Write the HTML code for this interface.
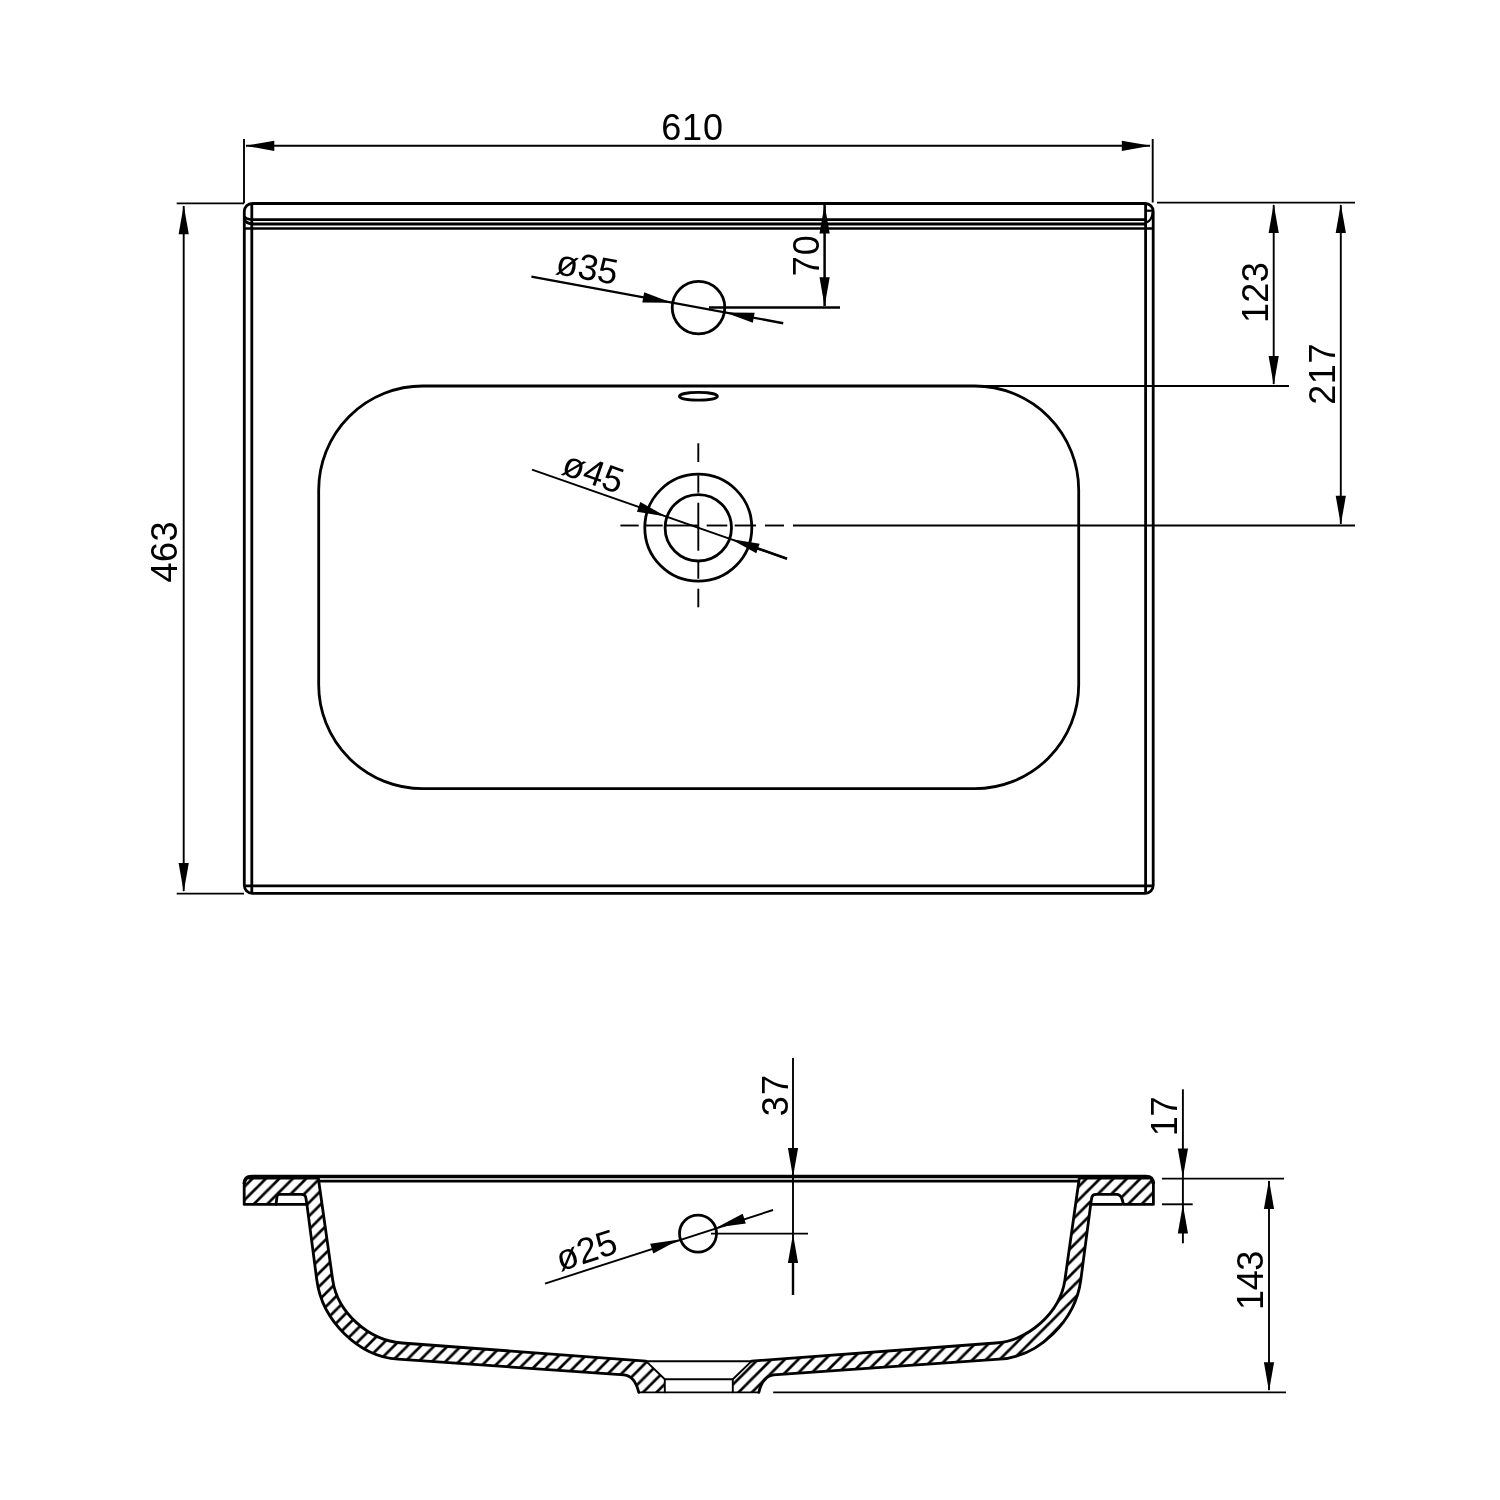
<!DOCTYPE html>
<html><head><meta charset="utf-8"><title>Washbasin 610 drawing</title>
<style>
html,body{margin:0;padding:0;background:#fff;}
svg{display:block;will-change:transform;}
text{font-family:"Liberation Sans",sans-serif;fill:#000;}
</style></head><body>
<svg width="1500" height="1500" viewBox="0 0 1500 1500">
<rect width="1500" height="1500" fill="#fff"/>
<rect x="244.3" y="203.5" width="908.9000000000001" height="689.8" rx="8" ry="8" fill="none" stroke="#000" stroke-width="2.8"/>
<line x1="251.8" y1="204" x2="251.8" y2="893" stroke="#000" stroke-width="2.8" />
<line x1="1145.6" y1="204" x2="1145.6" y2="893" stroke="#000" stroke-width="2.8" />
<path d="M1145.6,219.55 L252,219.55 Q245.6,219.2 244.3,216.2" fill="none" stroke="#000" stroke-width="2.8"/>
<path d="M1145.6,224.0 L252,224.0 Q246,223.2 244.3,219.4" fill="none" stroke="#000" stroke-width="2.9"/>
<line x1="244.3" y1="228.45" x2="1152.8" y2="228.45" stroke="#000" stroke-width="2.6" />
<line x1="1145.6" y1="210.7" x2="1153" y2="210.7" stroke="#000" stroke-width="2.2" />
<path d="M1152.6,212 Q1152.4,220 1146.4,222.6" fill="none" stroke="#000" stroke-width="2.2"/>
<line x1="245" y1="885.9" x2="1152.5" y2="885.9" stroke="#000" stroke-width="2.8" />
<rect x="318.7" y="386" width="760.0" height="402.70000000000005" rx="104" ry="104" fill="none" stroke="#000" stroke-width="2.8"/>
<circle cx="698.5" cy="307.6" r="26.3" fill="none" stroke="#000" stroke-width="2.8"/>
<ellipse cx="698.4" cy="396.3" rx="19" ry="3.9" fill="none" stroke="#000" stroke-width="2.8"/>
<circle cx="698.3" cy="527.7" r="53.5" fill="none" stroke="#000" stroke-width="2.8"/>
<circle cx="698.3" cy="527.8" r="33.2" fill="none" stroke="#000" stroke-width="2.8"/>
<line x1="698.3" y1="443.3" x2="698.3" y2="462" stroke="#000" stroke-width="1.9" />
<line x1="698.3" y1="475.3" x2="698.3" y2="492.7" stroke="#000" stroke-width="1.9" />
<line x1="698.3" y1="502.7" x2="698.3" y2="550.7" stroke="#000" stroke-width="1.9" />
<line x1="698.3" y1="561.3" x2="698.3" y2="578.7" stroke="#000" stroke-width="1.9" />
<line x1="698.3" y1="588.7" x2="698.3" y2="607.3" stroke="#000" stroke-width="1.9" />
<line x1="620.4" y1="525.5" x2="638.7" y2="525.5" stroke="#000" stroke-width="1.9" />
<line x1="646" y1="525.5" x2="662.7" y2="525.5" stroke="#000" stroke-width="1.9" />
<line x1="666" y1="525.5" x2="698" y2="525.5" stroke="#000" stroke-width="1.9" />
<line x1="706.7" y1="525.5" x2="727.3" y2="525.5" stroke="#000" stroke-width="1.9" />
<line x1="734.7" y1="525.5" x2="756" y2="525.5" stroke="#000" stroke-width="1.9" />
<line x1="765" y1="525.5" x2="784" y2="525.5" stroke="#000" stroke-width="1.9" />
<line x1="793" y1="525.5" x2="1355" y2="525.5" stroke="#000" stroke-width="1.9" />
<line x1="244" y1="139" x2="244" y2="203.3" stroke="#000" stroke-width="1.9" />
<line x1="1152.7" y1="139" x2="1152.7" y2="202.5" stroke="#000" stroke-width="1.9" />
<line x1="246" y1="145.8" x2="1150" y2="145.8" stroke="#000" stroke-width="1.9" />
<polygon points="245.30,145.80 274.30,140.70 274.30,150.90" fill="#000"/>
<polygon points="1150.80,145.80 1121.80,150.90 1121.80,140.70" fill="#000"/>
<text transform="translate(692.55,140) rotate(0)" font-size="36" text-anchor="middle" letter-spacing="0.90">610</text>
<line x1="176.7" y1="203.4" x2="244" y2="203.4" stroke="#000" stroke-width="1.9" />
<line x1="176.7" y1="893.6" x2="244" y2="893.6" stroke="#000" stroke-width="1.9" />
<line x1="183.7" y1="206" x2="183.7" y2="891" stroke="#000" stroke-width="1.9" />
<polygon points="183.70,205.30 188.80,234.30 178.60,234.30" fill="#000"/>
<polygon points="183.70,892.00 178.60,863.00 188.80,863.00" fill="#000"/>
<text transform="translate(176.9,551.7) rotate(-90)" font-size="36" text-anchor="middle" letter-spacing="0.44">463</text>
<line x1="1157" y1="202.6" x2="1355" y2="202.6" stroke="#000" stroke-width="1.9" />
<line x1="974" y1="386" x2="1289" y2="386" stroke="#000" stroke-width="1.9" />
<line x1="1273.7" y1="205" x2="1273.7" y2="384" stroke="#000" stroke-width="1.9" />
<polygon points="1273.70,204.00 1278.80,233.00 1268.60,233.00" fill="#000"/>
<polygon points="1273.70,385.00 1268.60,356.00 1278.80,356.00" fill="#000"/>
<text transform="translate(1268,292.5) rotate(-90)" font-size="36" text-anchor="middle" letter-spacing="0.36">123</text>
<line x1="1340.8" y1="205" x2="1340.8" y2="524" stroke="#000" stroke-width="1.9" />
<polygon points="1340.80,204.00 1345.90,233.00 1335.70,233.00" fill="#000"/>
<polygon points="1340.80,524.80 1335.70,495.80 1345.90,495.80" fill="#000"/>
<text transform="translate(1335.4,373.8) rotate(-90)" font-size="36" text-anchor="middle" letter-spacing="0.66">217</text>
<line x1="709" y1="307.5" x2="840" y2="307.5" stroke="#000" stroke-width="2.6" />
<line x1="824.6" y1="205" x2="824.6" y2="306" stroke="#000" stroke-width="2.5" />
<polygon points="824.60,204.50 829.70,233.50 819.50,233.50" fill="#000"/>
<polygon points="824.60,306.30 819.50,277.30 829.70,277.30" fill="#000"/>
<text transform="translate(819,255.2) rotate(-90)" font-size="36" text-anchor="middle" letter-spacing="1.00">70</text>
<line x1="531.4" y1="276.6" x2="783.2" y2="323.2" stroke="#000" stroke-width="2.4" />
<polygon points="671.75,302.65 642.31,302.39 644.17,292.36" fill="#000"/>
<polygon points="725.25,312.55 754.69,312.81 752.83,322.84" fill="#000"/>
<text transform="translate(585,279.3) rotate(10.484958350375178)" font-size="36" text-anchor="middle" letter-spacing="0.00">ø35</text>
<line x1="532" y1="469.7" x2="787" y2="558.7" stroke="#000" stroke-width="1.9" />
<polygon points="666.01,516.43 636.95,511.69 640.31,502.06" fill="#000"/>
<polygon points="730.59,538.97 759.65,543.71 756.29,553.34" fill="#000"/>
<line x1="754.1934794609656" y1="547.2079202824548" x2="787" y2="558.7" stroke="#000" stroke-width="2.6" />
<text transform="translate(589.2,484) rotate(19.239988762491887)" font-size="36" text-anchor="middle" letter-spacing="0.00">ø45</text>
<defs><pattern id="h" patternUnits="userSpaceOnUse" width="13.43" height="13.43" patternTransform="translate(7.49,0)"><path d="M-3.3575,3.3575 L3.3575,-3.3575 M0,13.43 L13.43,0 M10.0725,16.7875 L16.7875,10.0725" stroke="#000" stroke-width="2.7" fill="none"/></pattern><pattern id="h2" patternUnits="userSpaceOnUse" width="13.43" height="13.43" patternTransform="translate(8.96,0)"><path d="M-3.3575,3.3575 L3.3575,-3.3575 M0,13.43 L13.43,0 M10.0725,16.7875 L16.7875,10.0725" stroke="#000" stroke-width="2.7" fill="none"/></pattern></defs>
<path d="M244.20,1204.40 L244.20,1182.50 Q244.20,1178.00 249.00,1178.00 L318.30,1178.00 L332.70,1280.00 C337.24,1312.16 368.43,1340.51 402.00,1343.00 L646.00,1361.10 L664.80,1379.20 L664.80,1392.40 L638.80,1392.40 C636.50,1383.00 632.50,1375.60 624.00,1374.80 L398.00,1359.20 C358.69,1356.49 322.15,1320.85 316.80,1280.00 L306.90,1204.40 L305.80,1197.50 Q305.30,1194.30 301.50,1194.30 L279.50,1194.30 Q277.30,1194.30 277.00,1196.50 L276.00,1204.40 Z" fill="url(#h)" stroke="none"/>
<path d="M318.30,1178.00 L332.70,1280.00 C337.24,1312.16 368.43,1340.51 402.00,1343.00 L646.00,1361.10 M249.00,1178.00 L318.30,1178.00 M244.20,1182.50 L244.20,1204.40 L276.00,1204.40 L277.00,1196.50 Q277.30,1194.30 279.50,1194.30 L301.50,1194.30 Q305.30,1194.30 305.80,1197.50 L306.90,1204.40 L316.80,1280.00 C322.15,1320.85 358.69,1356.49 398.00,1359.20 L624.00,1374.80 C632.50,1375.60 636.50,1383.00 638.80,1392.40" fill="none" stroke="#000" stroke-width="2.8" stroke-linejoin="round" stroke-linecap="round"/>
<path d="M646.00,1361.10 L664.80,1379.20 L664.80,1392.40 L638.80,1392.40" fill="none" stroke="#000" stroke-width="1.9" stroke-linejoin="round" stroke-linecap="round"/>
<path d="M1153.40,1204.40 L1153.40,1182.50 Q1153.40,1178.00 1148.60,1178.00 L1079.30,1178.00 L1064.90,1280.00 C1060.36,1312.16 1029.17,1340.51 995.60,1343.00 L751.60,1361.10 L732.80,1379.20 L732.80,1392.40 L758.80,1392.40 C761.10,1383.00 765.10,1375.60 773.60,1374.80 L999.60,1359.20 C1038.91,1356.49 1075.45,1320.85 1080.80,1280.00 L1090.70,1204.40 L1091.80,1197.50 Q1092.30,1194.30 1096.10,1194.30 L1116.40,1194.30 Q1120.60,1194.30 1122.00,1199.00 L1123.60,1204.40 Z" fill="url(#h2)" stroke="none"/>
<path d="M1079.30,1178.00 L1064.90,1280.00 C1060.36,1312.16 1029.17,1340.51 995.60,1343.00 L751.60,1361.10 M1148.60,1178.00 L1079.30,1178.00 M1153.40,1182.50 L1153.40,1204.40 L1123.60,1204.40 L1122.00,1199.00 Q1120.60,1194.30 1116.40,1194.30 L1096.10,1194.30 Q1092.30,1194.30 1091.80,1197.50 L1090.70,1204.40 L1080.80,1280.00 C1075.45,1320.85 1038.91,1356.49 999.60,1359.20 L773.60,1374.80 C765.10,1375.60 761.10,1383.00 758.80,1392.40" fill="none" stroke="#000" stroke-width="2.8" stroke-linejoin="round" stroke-linecap="round"/>
<path d="M751.60,1361.10 L732.80,1379.20 L732.80,1392.40 L758.80,1392.40" fill="none" stroke="#000" stroke-width="1.9" stroke-linejoin="round" stroke-linecap="round"/>
<line x1="275" y1="1204.4" x2="308" y2="1204.4" stroke="#000" stroke-width="2.8" />
<line x1="1122.6" y1="1204.4" x2="1089.6" y2="1204.4" stroke="#000" stroke-width="2.8" />
<path d="M244.3,1184 Q244.3,1176.5 251.8,1176.5 L1145.8,1176.5 Q1153.3,1176.5 1153.3,1184" fill="none" stroke="#000" stroke-width="3.5"/>
<line x1="318" y1="1181.1" x2="1079.6" y2="1181.1" stroke="#000" stroke-width="2.8" />
<line x1="646" y1="1361.2" x2="751.6" y2="1361.2" stroke="#000" stroke-width="1.9" />
<line x1="664.8" y1="1379.2" x2="732.8" y2="1379.2" stroke="#000" stroke-width="1.9" />
<line x1="664.8" y1="1392.4" x2="732.8" y2="1392.4" stroke="#000" stroke-width="1.9" />
<circle cx="698" cy="1233.6" r="18.5" fill="none" stroke="#000" stroke-width="2.8"/>
<line x1="793" y1="1058" x2="793" y2="1264" stroke="#000" stroke-width="1.9" />
<line x1="793" y1="1262" x2="793" y2="1295" stroke="#000" stroke-width="2.4" />
<polygon points="793.00,1177.00 787.90,1148.00 798.10,1148.00" fill="#000"/>
<polygon points="793.00,1234.00 798.10,1263.00 787.90,1263.00" fill="#000"/>
<line x1="711" y1="1233.6" x2="808" y2="1233.6" stroke="#000" stroke-width="1.9" />
<text transform="translate(788,1095) rotate(-90)" font-size="36" text-anchor="middle" letter-spacing="1.10">37</text>
<line x1="545" y1="1283.6" x2="773" y2="1210" stroke="#000" stroke-width="1.9" />
<polygon points="679.35,1239.62 653.32,1253.38 650.18,1243.68" fill="#000"/>
<polygon points="716.65,1227.58 742.68,1213.82 745.82,1223.52" fill="#000"/>
<text transform="translate(590,1262) rotate(-17.890443552009494)" font-size="36" text-anchor="middle" letter-spacing="0.00">ø25</text>
<line x1="1182.9" y1="1089.3" x2="1182.9" y2="1243.3" stroke="#000" stroke-width="1.9" />
<polygon points="1182.90,1177.40 1177.80,1148.40 1188.00,1148.40" fill="#000"/>
<polygon points="1182.90,1204.60 1188.00,1233.60 1177.80,1233.60" fill="#000"/>
<line x1="1162" y1="1178.6" x2="1284" y2="1178.6" stroke="#000" stroke-width="1.9" />
<line x1="1162" y1="1204.3" x2="1192.7" y2="1204.3" stroke="#000" stroke-width="1.9" />
<text transform="translate(1177,1116.6) rotate(-90)" font-size="36" text-anchor="middle" letter-spacing="-0.40">17</text>
<line x1="1269" y1="1181" x2="1269" y2="1390" stroke="#000" stroke-width="1.9" />
<polygon points="1269.00,1180.00 1274.10,1209.00 1263.90,1209.00" fill="#000"/>
<polygon points="1269.00,1391.30 1263.90,1362.30 1274.10,1362.30" fill="#000"/>
<line x1="773.2" y1="1392.4" x2="1286" y2="1392.4" stroke="#000" stroke-width="1.9" />
<text transform="translate(1263,1280.6) rotate(-90)" font-size="36" text-anchor="middle" letter-spacing="-0.50">143</text>
</svg>
</body></html>
